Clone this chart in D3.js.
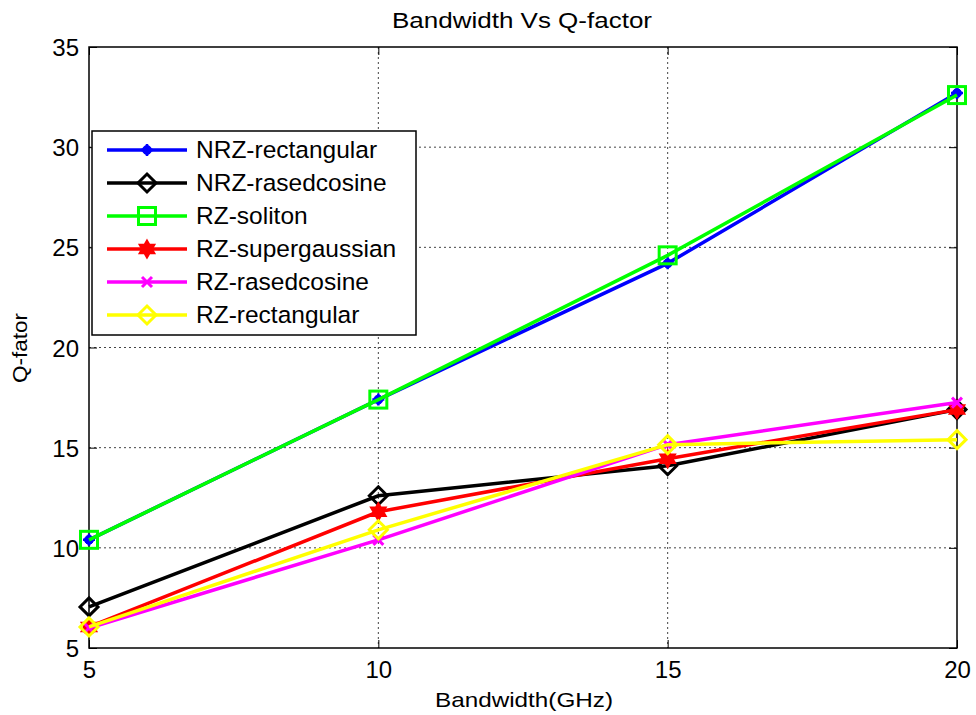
<!DOCTYPE html>
<html><head><meta charset="utf-8">
<script src="https://cdn.jsdelivr.net/npm/d3@7"></script>
<style>body{margin:0;background:#fff}svg{display:block}text{font-family:"Liberation Sans",Arial,sans-serif}</style>
</head><body><svg id="c" width="976" height="715"></svg>
<script>
const bandwidth = [5, 10, 15, 20];
const nrzRectangular = [10.4, 17.4, 24.2, 32.7];
const nrzRasedcosine = [7.05, 12.6, 14.1, 16.9];
const rzSoliton = [10.4, 17.4, 24.6, 32.6];
const rzSupergaussian = [6.05, 11.8, 14.45, 16.9];
const rzRasedcosine = [6.0, 10.4, 15.15, 17.25];
const rzRectangular = [6.05, 10.9, 15.15, 15.4];
const xTicks = [5, 10, 15, 20];
const yTicks = [5, 10, 15, 20, 25, 30, 35];
const seriesNames = ["NRZ-rectangular","NRZ-rasedcosine","RZ-soliton","RZ-supergaussian","RZ-rasedcosine","RZ-rectangular"];
const seriesColors = ["#0000ff","#000000","#00ff00","#ff0000","#ff00ff","#ffff00"];
const seriesMarkers = ["dot","diamond","square","hexagram","x","diamond"];
const seriesValues = [nrzRectangular, nrzRasedcosine, rzSoliton, rzSupergaussian, rzRasedcosine, rzRectangular];

const svg = d3.select("#c");
const L = 89, R = 957, T = 47, B = 648;
const x = d3.scaleLinear().domain([5, 20]).range([L, R]);
const y = d3.scaleLinear().domain([5, 35]).range([B, T]);

// grid
const g = svg.append("g");
g.selectAll(".gx").data(xTicks.slice(1, -1)).enter().append("line")
  .attr("x1", d => x(d)).attr("x2", d => x(d)).attr("y1", T).attr("y2", B)
  .attr("stroke", "#444").attr("stroke-width", 1).attr("stroke-dasharray", "2,3");
g.selectAll(".gy").data(yTicks.slice(1, -1)).enter().append("line")
  .attr("y1", d => y(d)).attr("y2", d => y(d)).attr("x1", L).attr("x2", R)
  .attr("stroke", "#444").attr("stroke-width", 1).attr("stroke-dasharray", "2,3");

// axes
const xAxis = d3.axisBottom(x).tickValues(xTicks).tickSizeInner(-8).tickSizeOuter(0).tickPadding(14);
const yAxis = d3.axisLeft(y).tickValues(yTicks).tickSizeInner(-8).tickSizeOuter(0).tickPadding(10);
const xa = svg.append("g").attr("transform", `translate(0,${B})`).call(xAxis);
const ya = svg.append("g").attr("transform", `translate(${L},0)`).call(yAxis);
svg.append("g").attr("transform", `translate(0,${T})`).call(d3.axisTop(x).tickValues(xTicks).tickSizeInner(-8).tickSizeOuter(0).tickFormat(""));
svg.append("g").attr("transform", `translate(${R},0)`).call(d3.axisRight(y).tickValues(yTicks).tickSizeInner(-8).tickSizeOuter(0).tickFormat(""));
svg.selectAll(".domain").remove();
svg.selectAll(".tick line").attr("stroke", "#000");
[xa, ya].forEach(a => a.selectAll("text").attr("font-size", 24).attr("fill", "#000").attr("font-family", "Liberation Sans, Arial, sans-serif"));
xa.selectAll("text").attr("dy", null).attr("y", 30);
ya.selectAll("text").attr("dy", "0.36em");
svg.append("rect").attr("x", L).attr("y", T).attr("width", R - L).attr("height", B - T)
  .attr("fill", "none").attr("stroke", "#000").attr("stroke-width", 1.5);

// titles
svg.append("text").attr("x", 522).attr("y", 28).attr("text-anchor", "middle").attr("font-size", 22)
  .attr("textLength", 260).attr("lengthAdjust", "spacingAndGlyphs").text("Bandwidth Vs Q-factor");
svg.append("text").attr("x", 524).attr("y", 707).attr("text-anchor", "middle").attr("font-size", 21)
  .attr("textLength", 178).attr("lengthAdjust", "spacingAndGlyphs").text("Bandwidth(GHz)");
svg.append("text").attr("transform", `translate(27,348) rotate(-90)`).attr("text-anchor", "middle").attr("font-size", 21)
  .attr("textLength", 70).attr("lengthAdjust", "spacingAndGlyphs").text("Q-fator");

function marker(sel, type, color) {
  if (type === "dot") {
    sel.append("circle").attr("r", 4.5).attr("fill", color).attr("stroke", color);
    sel.append("path").attr("d", "M-6,0H6M0,-6V6").attr("stroke", color).attr("stroke-width", 2.5);
  } else if (type === "diamond") {
    sel.append("path").attr("d", "M0,-9L9,0L0,9L-9,0Z").attr("fill", "none").attr("stroke", color).attr("stroke-width", 3);
  } else if (type === "square") {
    sel.append("rect").attr("x", -8.5).attr("y", -8.5).attr("width", 17).attr("height", 17).attr("fill", "none").attr("stroke", color).attr("stroke-width", 3);
  } else if (type === "hexagram") {
    const r = 9;
    const tri = a0 => d3.range(3).map(i => { const a = a0 + i * 2 * Math.PI / 3; return [r * Math.cos(a), r * Math.sin(a)]; });
    const p = t => "M" + t.map(q => q.join(",")).join("L") + "Z";
    sel.append("path").attr("d", p(tri(-Math.PI / 2)) + p(tri(Math.PI / 2))).attr("fill", color).attr("stroke", color).attr("stroke-width", 1.5);
  } else if (type === "x") {
    sel.append("path").attr("d", "M-5,-5L5,5M-5,5L5,-5").attr("stroke", color).attr("stroke-width", 3);
  }
}

const line = d3.line().x((d, i) => x(bandwidth[i])).y(d => y(d));
seriesValues.forEach((vals, si) => {
  const c = seriesColors[si];
  svg.append("path").datum(vals).attr("d", line).attr("fill", "none").attr("stroke", c).attr("stroke-width", 3.5);
  vals.forEach((v, i) => {
    const m = svg.append("g").attr("transform", `translate(${x(bandwidth[i])},${y(v)})`);
    marker(m, seriesMarkers[si], c);
  });
});

// legend
const lg = svg.append("g").attr("transform", "translate(92,131)");
lg.append("rect").attr("width", 324).attr("height", 204).attr("fill", "#fff").attr("stroke", "#000").attr("stroke-width", 1.5);
seriesNames.forEach((n, i) => {
  const yy = 19 + i * 33;
  lg.append("line").attr("x1", 15).attr("x2", 95).attr("y1", yy).attr("y2", yy).attr("stroke", seriesColors[i]).attr("stroke-width", 3.5);
  const m = lg.append("g").attr("transform", `translate(55,${yy})`);
  marker(m, seriesMarkers[i], seriesColors[i]);
  lg.append("text").attr("x", 104).attr("y", yy + 8).attr("font-size", 24.5).text(n);
});
</script></body></html>
